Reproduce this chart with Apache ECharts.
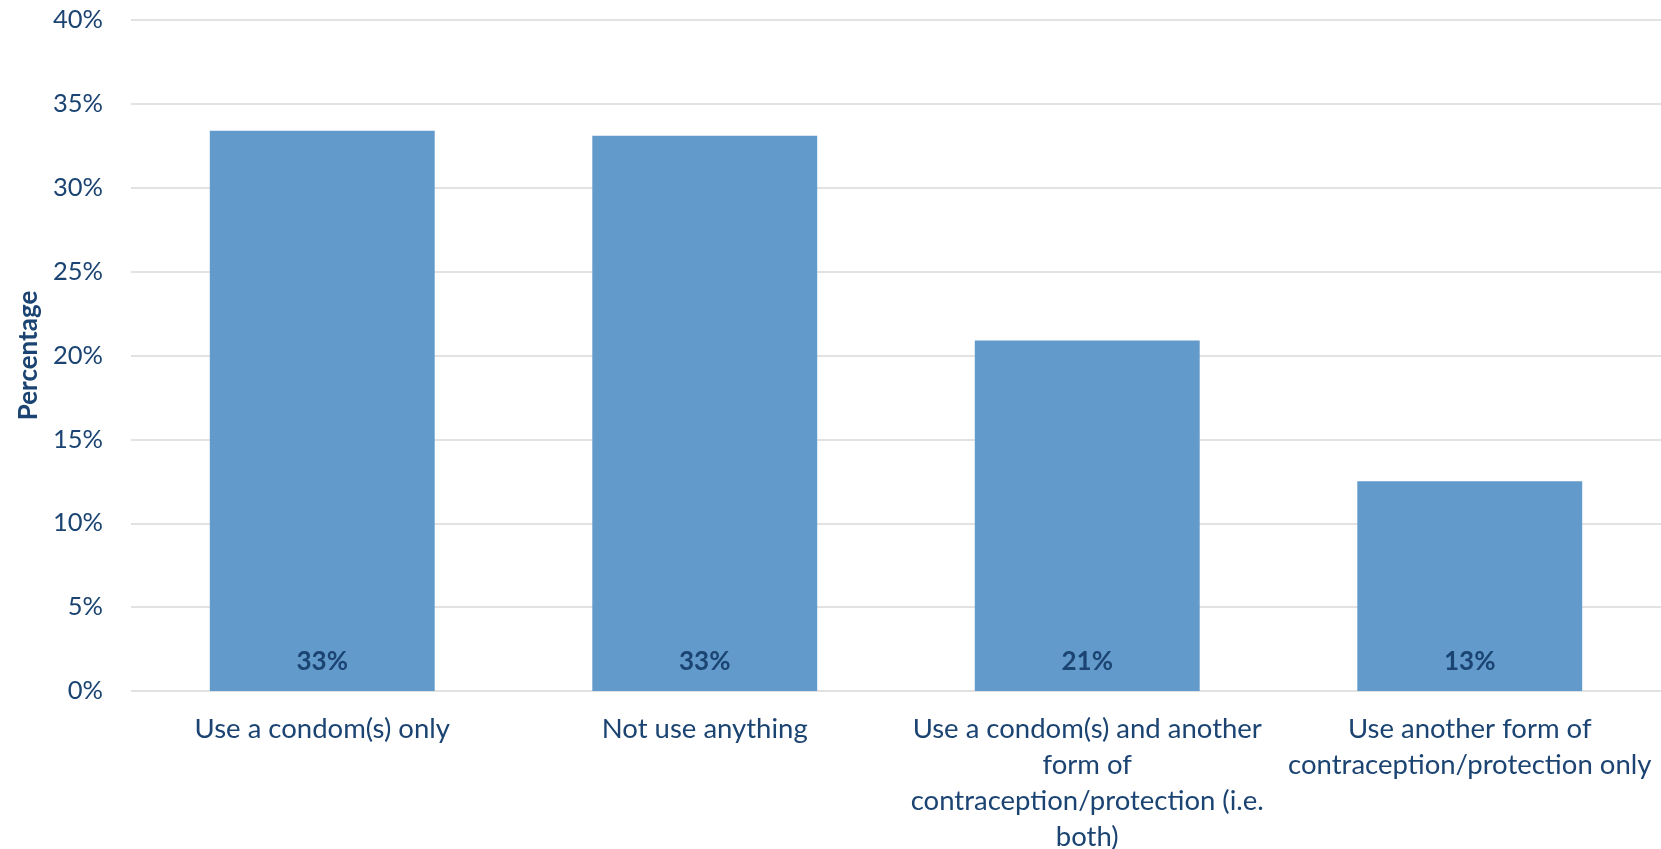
<!DOCTYPE html>
<html>
<head>
<meta charset="utf-8">
<script src="https://cdn.jsdelivr.net/npm/echarts@6/dist/echarts.min.js"></script>
<style>
  html, body { margin: 0; padding: 0; background: #ffffff; }
  #chart { width: 1661px; height: 849px; }
</style>
</head>
<body>
<div id="chart"></div>
<script>
// Survey responses: contraception use (share of respondents)
const categories = [
  'Use a condom(s) only',
  'Not use anything',
  'Use a condom(s) and another\nform of\ncontraception/protection (i.e.\nboth)',
  'Use another form of\ncontraception/protection only'
];
const values = [33.4, 33.1, 20.9, 12.5];
const yTicks = [0, 5, 10, 15, 20, 25, 30, 35, 40];

const textColor = '#1B4472';
const font = 'Lato, "Open Sans", sans-serif';

const chart = echarts.init(document.getElementById('chart'));
chart.setOption({
  animation: false,
  grid: { left: 131, right: 0, top: 20, bottom: 158, containLabel: false, outerBoundsMode: 'none' },
  xAxis: {
    type: 'category',
    data: categories,
    axisLine: { show: false },
    axisTick: { show: false },
    axisLabel: {
      color: textColor,
      fontFamily: font,
      fontSize: 27.5,
      lineHeight: 36,
      margin: 20,
      interval: 0
    }
  },
  yAxis: {
    type: 'value',
    min: yTicks[0],
    max: yTicks[yTicks.length - 1],
    interval: yTicks[1] - yTicks[0],
    name: 'Percentage',
    nameLocation: 'middle',
    nameRotate: 90,
    nameGap: 86,
    nameTextStyle: { color: textColor, fontFamily: font, fontSize: 26, fontWeight: 'bold' },
    axisLine: { show: false },
    axisTick: { show: false },
    axisLabel: {
      color: textColor,
      fontFamily: font,
      fontSize: 25.5,
      margin: 28,
      formatter: v => v + '%'
    },
    splitLine: { lineStyle: { color: '#D9D9D9', width: 1.5 } }
  },
  series: [{
    type: 'bar',
    data: values,
    barWidth: '58.8%',
    itemStyle: { color: '#629BCB' },
    label: {
      show: true,
      position: 'insideBottom',
      distance: 16,
      color: textColor,
      fontFamily: font,
      fontSize: 26,
      fontWeight: 'bold',
      formatter: p => Math.round(p.value) + '%'
    }
  }]
});
</script>
</body>
</html>
